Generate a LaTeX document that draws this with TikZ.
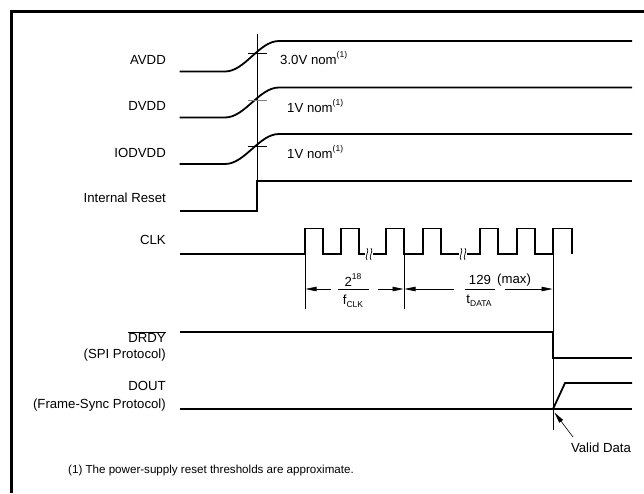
\documentclass[tikz,border=0pt]{standalone}
\usepackage{fontspec}
\setmainfont{Liberation Sans}
\usetikzlibrary{arrows.meta}
\tikzset{
  sig/.style={line width=1.8pt, line join=miter},
  thin/.style={line width=0.6pt},
  frame/.style={line width=3pt},
  lbl/.style={anchor=east, inner sep=0pt, font=\fontsize{13.2}{15}\selectfont},
  txt/.style={inner sep=0pt, font=\fontsize{13.2}{15}\selectfont},
  foottxt/.style={inner sep=0pt, font=\fontsize{11.6}{14}\selectfont},
  dimarrow/.style={thin, -{Triangle[length=11pt,width=4.5pt]}},
  brk/.style={line width=0.7pt}
}
\newcommand{\supp}[1]{\raisebox{1.0ex}{\fontsize{8.5}{9}\selectfont #1}}
\newcommand{\subb}[1]{\raisebox{-0.45ex}{\fontsize{8.5}{9}\selectfont #1}}
\begin{document}
\begin{tikzpicture}[x=1pt,y=-1pt]
\useasboundingbox (0,0) rectangle (644,493);
% frame
\draw[frame] (11.5,493) -- (11.5,11) -- (644,11);

% labels
\node[lbl] (lavdd) at (166,60) {AVDD};
\node[lbl] (ldvdd) at (166,106) {DVDD};
\node[lbl] (liodvdd) at (166,152.7) {IODVDD};
\node[lbl] (lrst) at (166,198) {Internal Reset};
\node[lbl] (lclk) at (166,240) {CLK};
\node[lbl] (ldrdy) at (166,336.7) {$\overline{\mbox{DRDY}}$};
\node[lbl] (lspi) at (166,355) {(SPI Protocol)};
\node[lbl] (ldout) at (166,386) {DOUT};
\node[lbl] (lfs) at (166,405) {(Frame-Sync Protocol)};

% reference vertical line
\coordinate (vtop) at (257,34);
\coordinate (vbot) at (257,211);
\draw[thin] (vtop) -- (vbot);

% supply ramps
\draw[sig] (179.5,71.5) -- (225,71.5) .. controls (245,71.5) and (259,41) .. (279,41) -- (632,41);
\draw[sig] (179.5,117.5) -- (225,117.5) .. controls (245,117.5) and (259,87.5) .. (279,87.5) -- (632,87.5);
\draw[sig] (179.5,164) -- (225,164) .. controls (245,164) and (259,134) .. (279,134) -- (632,134);
% threshold ticks
\draw[thin] (248,53.3) -- (267,53.3);
\draw[thin, gray] (248,100) -- (267,100);
\draw[thin] (248,146.7) -- (267,146.7);

\node[txt, anchor=west] (tav) at (280,58) {3.0V nom\supp{(1)}};
\node[txt, anchor=west] (tdv) at (287,106) {1V nom\supp{(1)}};
\node[txt, anchor=west] (tio) at (287,151.7) {1V nom\supp{(1)}};

% internal reset
\draw[sig] (179.5,211) -- (257,211) -- (257,181) -- (632,181);

% CLK
\def\lo{254}\def\hi{228.5}
\draw[sig] (179.5,\lo) -- (305,\lo) -- (305,\hi) -- (323,\hi) -- (323,\lo) -- (341,\lo) -- (341,\hi) -- (359,\hi) -- (359,\lo) -- (365,\lo);
\draw[sig] (373,\lo) -- (386,\lo) -- (386,\hi) -- (404,\hi) -- (404,\lo) -- (423,\lo) -- (423,\hi) -- (441,\hi) -- (441,\lo) -- (459,\lo);
\draw[sig] (467,\lo) -- (480,\lo) -- (480,\hi) -- (498,\hi) -- (498,\lo) -- (517,\lo) -- (517,\hi) -- (535,\hi) -- (535,\lo) -- (553,\lo) -- (553,\hi) -- (572,\hi) -- (572,\lo);
% break marks
\foreach \bx in {367,371,461,465}{
  \draw[brk] (\bx,248) .. controls (\bx+3,251) and (\bx-3,257) .. (\bx,260);
}

% dimension extension lines
\coordinate (e1t) at (305,\lo); \coordinate (e1b) at (305,309);
\coordinate (e2t) at (404,\lo); \coordinate (e2b) at (404,309);
\coordinate (e3t) at (553,\hi); \coordinate (e3b) at (553,430);
\draw[thin] (e1t) -- (e1b);
\draw[thin] (e2t) -- (e2b);
\draw[thin] (e3t) -- (e3b);

% dimension arrows
\draw[dimarrow] (331,289) -- (305.5,289);
\draw[dimarrow] (378,289) -- (403.5,289);
\draw[dimarrow] (454,289) -- (404.5,289);
\draw[dimarrow] (505,289) -- (552.5,289);

% fraction 1
\draw[thin] (338,289) -- (369,289);
\node[txt] (n1) at (353,280) {2\supp{18}};
\node[txt] (d1) at (353,301) {f\subb{CLK}};
% fraction 2
\draw[thin] (465,289) -- (495,289);
\node[txt] (n2) at (480,280) {129};
\node[txt, anchor=west] (mx) at (497,280) {(max)};
\node[txt] (d2) at (479,301) {t\subb{DATA}};

% DRDY
\draw[sig] (179.5,332) -- (553,332) -- (553,358) -- (632,358);
% DOUT
\draw[sig] (179.5,409) -- (632,409);
\draw[sig] (553,409) -- (565,383) -- (632,383);

% valid data
\coordinate (vd) at (554.5,412.5);
\node[txt] (valid) at (601,448) {Valid Data};
\draw[dimarrow] (573,437) -- (vd);

% footnote
\node[foottxt] (foot) at (211,470) {(1) The power-supply reset thresholds are approximate.};
\end{tikzpicture}
\end{document}
